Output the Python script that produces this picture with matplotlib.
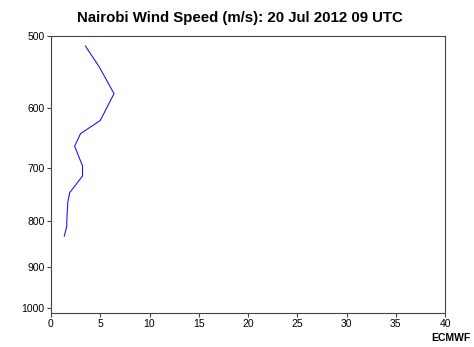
import numpy as np
import matplotlib.pyplot as plt
from matplotlib.ticker import FixedLocator, NullLocator, FixedFormatter

plt.rcParams['font.family'] = ['Liberation Sans', 'DejaVu Sans']

# Datos: perfil vertical de viento
pressure = [513, 541, 579, 620, 641, 662, 696, 714, 745, 764, 803, 812, 832]
wind_speed = [3.5, 4.9, 6.4, 5.0, 3.0, 2.4, 3.2, 3.2, 1.9, 1.7, 1.6, 1.6, 1.35]

p_ticks = [500, 600, 700, 800, 900, 1000]
x_ticks = [0, 5, 10, 15, 20, 25, 30, 35, 40]

# Crear figura
fig = plt.figure(figsize=(4.74, 3.47), dpi=100)
ax = fig.add_axes([51 / 474, 1 - 313 / 347, (445 - 51) / 474, (313 - 36) / 347])

ax.plot(wind_speed, pressure, color='#1a1aff', lw=0.8)

# Ejes
ax.set_yscale('log')
ax.set_ylim(1012, 500)
ax.set_xlim(0, 40)
ax.yaxis.set_major_locator(FixedLocator(p_ticks))
ax.yaxis.set_major_formatter(FixedFormatter([str(p) for p in p_ticks]))
ax.yaxis.set_minor_locator(NullLocator())
ax.set_xticks(x_ticks)

for s in ax.spines.values():
    s.set_color('#444444')
    s.set_linewidth(0.8)
ax.tick_params(labelsize=7.5, length=3, width=0.8, color='#444444', pad=1.5)

fig.suptitle('Nairobi Wind Speed (m/s): 20 Jul 2012 09 UTC', x=240 / 474, y=1 - 11 / 347,
             va='top', fontsize=10.8, fontweight='bold')
fig.text(470 / 474, 1 - 338 / 347, 'ECMWF', ha='right', va='center',
         fontsize=7.5, fontweight='bold')

fig.savefig('out.png', dpi=100)
